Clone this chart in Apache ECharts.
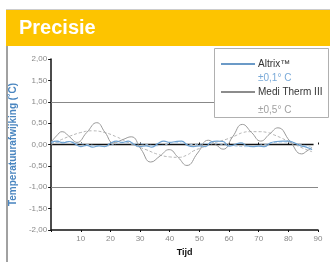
<!DOCTYPE html>
<html><head><meta charset="utf-8">
<script src="https://cdn.jsdelivr.net/npm/echarts@6/dist/echarts.min.js"></script>
<style>html,body{margin:0;padding:0;background:#fff}#c{width:330px;height:262px}</style>
</head><body><div id="c"></div>
<script>
const title = 'Precisie';
const yTitle = 'Temperatuurafwijking (˚C)';
const xTitle = 'Tijd';
const legendNames = ['Altrix™', 'Medi Therm III'];
const legendSubs = ['±0,1° C', '±0,5° C'];
const referenceLevels = [1, -1];
const zeroLine = [[0, 0], [88.5, 0]];

const mediTherm = [[0,0.05],[1.8,0.2],[3.7,0.30],[6.2,0.18],[8.7,0.05],[12,0.28],[15.4,0.51],[18.2,0.28],[21,0.04],[24,0.11],[27,0.18],[30.3,-0.11],[33.6,-0.41],[36.7,-0.27],[39.8,-0.12],[42.8,-0.3],[45.8,-0.49],[49.4,-0.2],[53,0.10],[55.5,0.0],[58,-0.11],[61.2,0.18],[64.5,0.47],[67.6,0.28],[70.7,0.08],[73.6,0.24],[76.5,0.39],[80.5,0.08],[84.5,-0.22],[86.3,-0.15],[88,-0.07]];
const mediTrend = [[0,0],[3,0.1],[6.5,0.2],[10,0.28],[13.7,0.32],[18,0.28],[22,0.18],[25,0.08],[28,-0.02],[32,-0.12],[36,-0.23],[40,-0.29],[43,-0.3],[46,-0.24],[48,-0.15],[51,-0.07],[53.6,0],[56,0.06],[59,0.12],[62,0.2],[64.7,0.28],[67,0.3],[70,0.3],[73,0.28],[75,0.23],[77.4,0.16],[80.7,0.05],[84,-0.06],[88,-0.17]];
const altrix = [[0,0.05],[2,0.08],[4,0.04],[6,0.07],[8,0.02],[10,-0.05],[12,-0.02],[14,-0.06],[16,-0.03],[18,-0.05],[20,0.03],[22,0.08],[24,0.05],[26,0.08],[28,0.0],[30,-0.05],[32,-0.03],[34,-0.06],[36,0.02],[38,0.08],[40,0.05],[42,0.07],[44,0.08],[46,-0.02],[48,-0.05],[50,-0.03],[52,-0.05],[54,0.06],[56,0.08],[58,0.07],[60,-0.04],[62,0.0],[64,0.04],[66,-0.03],[68,-0.05],[70,-0.04],[72,-0.05],[74,0.04],[76,0.07],[78,0.08],[80,0.08],[82,0.04],[84,-0.03],[86,-0.06],[88,-0.12]];
const altrixTrend = [[0,0.03],[6,0.06],[12,0.0],[18,-0.04],[24,0.04],[30,0.02],[36,-0.03],[42,0.04],[48,0.0],[54,0.03],[60,-0.02],[66,-0.05],[72,0.0],[78,0.06],[84,0.0],[88.5,-0.08]];

const yMin = -2, yMax = 2, yStep = 0.5;
const xMin = 0, xMax = 90, xStep = 10;

const FONT = 'Liberation Sans, Arial, sans-serif';
const chart = echarts.init(document.getElementById('c'), null, {renderer: 'canvas'});

const lineColors = ['#3a78b5', '#666666'];
const subColors = ['#7aaad8', '#a0a0a0'];
const legendY = [64, 92];
const subY = [78, 110];
const legendGraphics = [];
legendGraphics.push({type: 'rect', shape: {x: 214.5, y: 48.5, width: 114, height: 69}, style: {fill: '#fff', stroke: '#b0b0b0', lineWidth: 1}, z: 100});
legendNames.forEach((n, i) => {
  legendGraphics.push({type: 'line', shape: {x1: 221, y1: legendY[i], x2: 255, y2: legendY[i]}, style: {stroke: lineColors[i], lineWidth: 1.5}, z: 101});
  legendGraphics.push({type: 'text', x: 258, y: legendY[i], style: {text: n, font: '10px ' + FONT, fill: '#333', textVerticalAlign: 'middle'}, z: 101});
  legendGraphics.push({type: 'text', x: 258, y: subY[i], style: {text: legendSubs[i], font: '10px ' + FONT, fill: subColors[i], textVerticalAlign: 'middle'}, z: 101});
});

const option = {
  animation: false,
  grid: {left: 47, right: 12, top: 59, bottom: 30, containLabel: false},
  xAxis: [{
    type: 'value', min: xMin, max: xMax, interval: xStep,
    name: xTitle, nameLocation: 'middle', nameGap: 18,
    nameTextStyle: {fontFamily: FONT, fontWeight: 'bold', fontSize: 9, color: '#111'},
    axisLine: {onZero: false, lineStyle: {color: '#111', width: 1.5}},
    axisTick: {show: true, length: 2, lineStyle: {color: '#111'}},
    axisLabel: {fontFamily: FONT, fontSize: 8, color: '#888', margin: 5, formatter: v => v === 0 ? '' : String(v)},
    splitLine: {show: false}
  }, {
    type: 'value', min: xMin, max: xMax, interval: xStep, position: 'bottom',
    axisLine: {show: false}, axisLabel: {show: false}, splitLine: {show: false},
    axisTick: {show: true, inside: true, length: 2, lineStyle: {color: '#111'}}
  }],
  yAxis: {
    type: 'value', min: yMin, max: yMax, interval: yStep,
    name: yTitle, nameLocation: 'middle', nameGap: 23, nameRotate: 90,
    nameTextStyle: {fontFamily: FONT, fontWeight: 'bold', fontSize: 10, color: '#4a86c0'},
    axisLine: {show: true, lineStyle: {color: '#111', width: 1.5}},
    axisTick: {show: true, length: 3, lineStyle: {color: '#111'}},
    axisLabel: {fontFamily: FONT, fontSize: 8, color: '#888', margin: 4, formatter: v => v.toFixed(2).replace('.', ',')},
    splitLine: {show: false}
  },
  graphic: [
    {type: 'line', shape: {x1: 6, y1: 9.5, x2: 330, y2: 9.5}, style: {stroke: '#cccccc', lineWidth: 1}},
    {type: 'rect', shape: {x: 6, y: 10, width: 324, height: 36}, style: {fill: '#fdc400'}},
    {type: 'line', shape: {x1: 7, y1: 46, x2: 7, y2: 262}, style: {stroke: '#444', lineWidth: 1}},
    {type: 'text', x: 19, y: 28, style: {text: title, font: 'bold 20px ' + FONT, fill: '#fff', textVerticalAlign: 'middle'}}
  ].concat(legendGraphics),
  series: [
    {type: 'line', data: zeroLine, symbol: 'none', lineStyle: {color: '#111', width: 1.5}, z: 1,
     markLine: {silent: true, symbol: 'none', label: {show: false}, lineStyle: {color: '#888', width: 1, type: 'solid'},
       data: referenceLevels.map(v => ({yAxis: v}))}},
    {type: 'line', data: altrixTrend, smooth: true, symbol: 'none', lineStyle: {color: '#a9c9e6', width: 1, type: [3, 2]}, z: 2},
    {type: 'line', data: mediTrend, smooth: true, symbol: 'none', lineStyle: {color: '#b5b5b5', width: 1, type: [3, 2]}, z: 2},
    {type: 'line', data: mediTherm, smooth: 0.5, symbol: 'none', lineStyle: {color: '#999999', width: 1}, z: 3},
    {type: 'line', data: altrix, smooth: 0.5, symbol: 'none', lineStyle: {color: '#6ea2d2', width: 1.2}, z: 4}
  ]
};
chart.setOption(option);
</script>
</body></html>
